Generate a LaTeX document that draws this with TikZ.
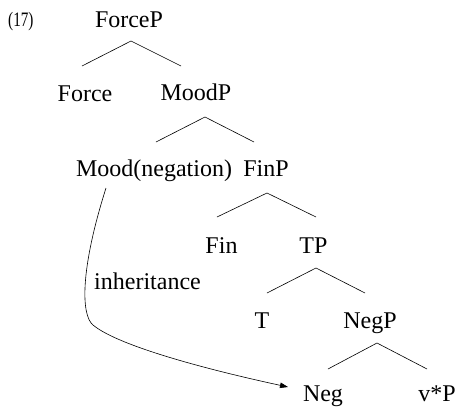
\documentclass[tikz,border=0pt]{standalone}
\usepackage{fontspec}
\setmainfont{Liberation Serif}
\usetikzlibrary{arrows.meta,calc}
\begin{document}
\begin{tikzpicture}[x=1pt,y=-1pt,
  lbl/.style={anchor=base,inner sep=0pt,font=\fontsize{24}{28}\selectfont},
  branch/.style={line width=0.6pt},
  inherit/.style={line width=0.6pt,-{Triangle[length=8pt,width=5.5pt]}}]
\useasboundingbox (0,0) rectangle (456,410);
\node[anchor=base west,inner sep=0pt] (ex) at (8,26.5) {\scalebox{0.74}[1]{\fontsize{20.5}{24}\selectfont(17)}};
\node[lbl] (ForceP) at (129,27.5) {ForceP};
\node[lbl] (Force) at (85,101) {Force};
\node[lbl] (MoodP) at (196,100.5) {MoodP};
\node[lbl] (Mood) at (154,176) {Mood(negation)};
\node[lbl] (FinP) at (266,176) {FinP};
\node[lbl] (Fin) at (221.5,253) {Fin};
\node[lbl] (TP) at (313.5,253) {TP};
\node[lbl] (T) at (262,328) {T};
\node[lbl] (NegP) at (370,328) {NegP};
\node[lbl] (Neg) at (323,401) {Neg};
\node[lbl] (vP) at (437,401) {v*P};
\node[lbl] (inh) at (147.5,289) {inheritance};
% branches
\draw[branch] ([xshift=-3pt,yshift=35pt]Force.base) -- ([xshift=2pt,yshift=-13.5pt]ForceP.base) -- ([xshift=-15pt,yshift=34.5pt]MoodP.base);
\draw[branch] ([xshift=2pt,yshift=34pt]Mood.base) -- ([xshift=9pt,yshift=-16.5pt]MoodP.base) -- ([xshift=-12pt,yshift=34pt]FinP.base);
\draw[branch] ([xshift=-4.5pt,yshift=36pt]Fin.base) -- ([xshift=1pt,yshift=-17pt]FinP.base) -- ([xshift=2.5pt,yshift=36pt]TP.base);
\draw[branch] ([xshift=5pt,yshift=35pt]T.base) -- ([xshift=2.5pt,yshift=-15pt]TP.base) -- ([xshift=-5pt,yshift=35pt]NegP.base);
\draw[branch] ([xshift=5pt,yshift=32pt]Neg.base) -- ([xshift=7pt,yshift=-15pt]NegP.base) -- ([xshift=-10pt,yshift=32pt]vP.base);
% inheritance arrow
\draw[inherit] ([xshift=-48pt,yshift=-12pt]Mood.base) .. controls (80,270) and (81,315) .. (93,325) .. controls (117,345) and (200,368) .. ([xshift=-35pt,yshift=14pt]Neg.base);
\end{tikzpicture}
\end{document}
